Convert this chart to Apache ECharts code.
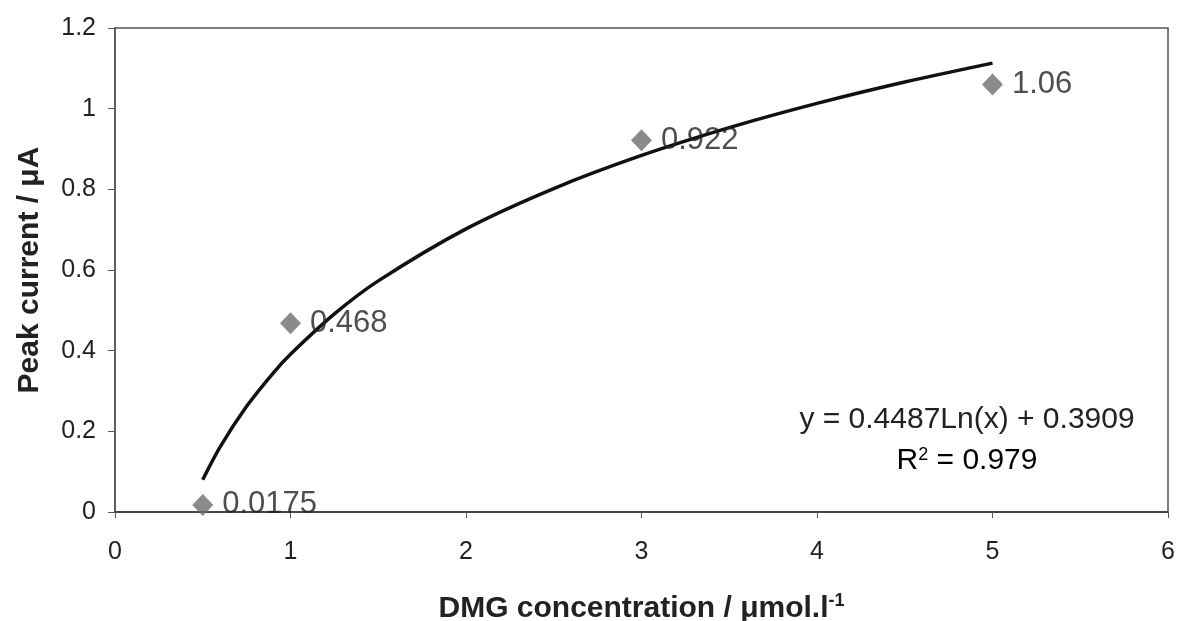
<!DOCTYPE html>
<html><head><meta charset="utf-8">
<script src="https://cdn.jsdelivr.net/npm/echarts@6/dist/echarts.min.js"></script>
<style>html,body{margin:0;padding:0;background:#fff}#c{width:1177px;height:621px}</style>
</head><body><div id="c"></div>
<script>
// measured points
const concX = [0.5, 1, 3, 5];
const peakY = [0.0175, 0.468, 0.922, 1.06];
const pointLabels = ['0.0175', '0.468', '0.922', '1.06'];
// trend line, values
const trendX = [0.5, 0.6, 0.75, 0.9, 1, 1.25, 1.5, 2, 2.5, 3, 3.5, 4, 4.5, 5];
const trendY = [0.08, 0.162, 0.262, 0.344, 0.391, 0.491, 0.573, 0.702, 0.802, 0.884, 0.953, 1.013, 1.066, 1.113];
const xTicks = [0, 1, 2, 3, 4, 5, 6];
const yTicks = [0, 0.2, 0.4, 0.6, 0.8, 1, 1.2];
const equationText = 'y = 0.4487Ln(x) + 0.3909';
const r2Text = '0.979';

const chart = echarts.init(document.getElementById('c'));
const font = 'Liberation Sans, Arial, sans-serif';
chart.setOption({
  animation: false,
  backgroundColor: '#fff',
  grid: {left: 115, right: 9, top: 28, bottom: 109, containLabel: false, outerBoundsMode: 'none',
    show: true, borderColor: '#555', borderWidth: 1.5, backgroundColor: '#fff'},
  xAxis: {
    type: 'value', min: xTicks[0], max: xTicks[xTicks.length-1], interval: 1,
    axisLine: {show: true, onZero: false, lineStyle: {color: '#333', width: 1.5}},
    axisTick: {show: true, inside: false, length: 6, lineStyle: {color: '#555'}},
    splitLine: {show: false},
    axisLabel: {color: '#222', fontSize: 25, fontFamily: font, margin: 28},
    name: '{t|DMG concentration / μmol.l}{s|-1}',
    nameLocation: 'middle', nameGap: 80,
    nameTextStyle: {rich: {
      t: {fontSize: 30, fontWeight: 'bold', fontFamily: font, color: '#222', verticalAlign: 'bottom'},
      s: {fontSize: 18, fontWeight: 'bold', fontFamily: font, color: '#222', verticalAlign: 'top', padding: [0,0,14,0]}
    }}
  },
  yAxis: {
    type: 'value', min: yTicks[0], max: yTicks[yTicks.length-1], interval: 0.2,
    axisLine: {show: true, lineStyle: {color: '#555', width: 1.5}},
    axisTick: {show: true, inside: false, length: 7, lineStyle: {color: '#555'}},
    splitLine: {show: false},
    axisLabel: {color: '#222', fontSize: 25, fontFamily: font, margin: 19,
      formatter: v => String(Math.round(v*10)/10)},
    name: 'Peak current / μA', nameLocation: 'middle', nameGap: 70,
    nameTextStyle: {fontSize: 30, fontWeight: 'bold', fontFamily: font, color: '#222'}
  },
  series: [
    {
      type: 'line', data: trendX.map((x,i)=>[x, trendY[i]]), smooth: 0.3,
      showSymbol: false, symbol: 'none',
      lineStyle: {color: '#111', width: 3.5}, z: 2
    },
    {
      type: 'scatter', data: concX.map((x,i)=>[x, peakY[i]]),
      symbol: 'diamond', symbolSize: [21, 22],
      itemStyle: {color: '#6e6e6e'}, z: 3,
      label: {show: true, position: 'right', distance: 9,
        formatter: p => pointLabels[p.dataIndex],
        fontSize: 31, fontFamily: font, color: '#222'}
    }
  ],
  graphic: [
    {type: 'text', x: 967, y: 420, style: {text: equationText, fontSize: 30, fontFamily: font, fill: '#222', align: 'center', verticalAlign: 'middle'}},
    {type: 'text', x: 967, y: 461, style: {
      text: '{r|R}{s|2}{r| = ' + r2Text + '}', align: 'center', verticalAlign: 'middle',
      rich: {r: {fontSize: 30, fontFamily: font, color: '#222', verticalAlign: 'bottom'},
             s: {fontSize: 18, fontFamily: font, color: '#222', verticalAlign: 'top', padding: [0,0,12,0]}}
    }}
  ]
});
</script></body></html>
